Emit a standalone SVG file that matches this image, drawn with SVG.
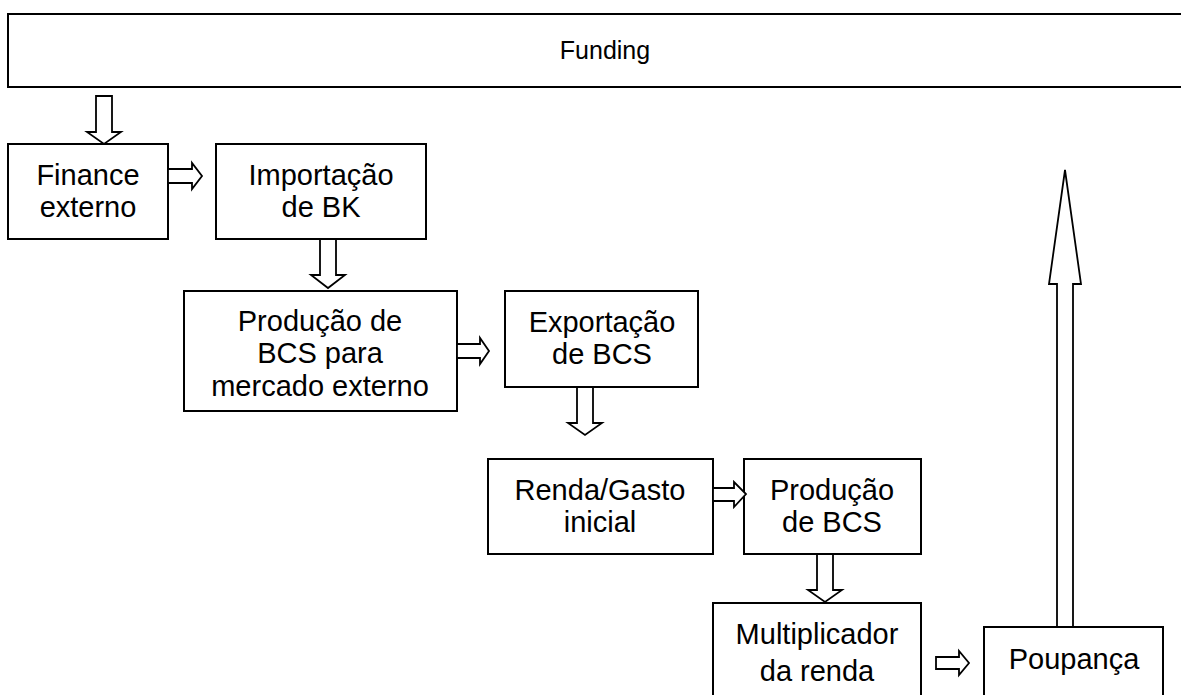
<svg xmlns="http://www.w3.org/2000/svg" width="1181" height="695" viewBox="0 0 1181 695">
<style>
.box{fill:#fff;stroke:#000;stroke-width:2}
.arr{fill:#fff;stroke:#000;stroke-width:1.8;stroke-linejoin:miter}
text{font-family:"Liberation Sans",Arial,sans-serif;font-size:29px;fill:#000;text-anchor:middle}
</style>
<rect width="1181" height="695" fill="#fff"/>
<g id="funding"><rect class="box" x="8" y="14" width="1190" height="73"/><text x="605" y="59" style="font-size:25px">Funding</text></g>
<g id="finance"><rect class="box" x="8" y="144" width="160" height="95"/><text x="88" y="185">Finance</text><text x="88" y="217">externo</text></g>
<g id="importacao"><rect class="box" x="216" y="144" width="210" height="95"/><text x="321" y="185">Importação</text><text x="321" y="217">de BK</text></g>
<g id="producao-externo"><rect class="box" x="184" y="291" width="273" height="120"/><text x="320" y="331">Produção de</text><text x="320" y="363">BCS para</text><text x="320" y="396">mercado externo</text></g>
<g id="exportacao"><rect class="box" x="505" y="291" width="193" height="96"/><text x="602" y="332">Exportação</text><text x="602" y="364">de BCS</text></g>
<g id="renda"><rect class="box" x="488" y="459" width="225" height="95"/><text x="600" y="500">Renda/Gasto</text><text x="600" y="532">inicial</text></g>
<g id="producao-bcs"><rect class="box" x="744" y="459" width="177" height="95"/><text x="832" y="500">Produção</text><text x="832" y="532">de BCS</text></g>
<g id="multiplicador"><rect class="box" x="713" y="603" width="208" height="110"/><text x="817" y="644">Multiplicador</text><text x="817" y="681">da renda</text></g>
<g id="poupanca"><rect class="box" x="984" y="627" width="179" height="90"/><text x="1074" y="669">Poupança</text></g>
<g id="connectors">
<polygon class="arr" points="96,96 112,96 112,132 121,132 104,144 87,132 96,132"/>
<polygon class="arr" points="320,239 336,239 336,275 345,275 328,288 311,275 320,275"/>
<polygon class="arr" points="577,387 593,387 593,423 602,423 585,435 568,423 577,423"/>
<polygon class="arr" points="817,554 833,554 833,590 842,590 825,602 808,590 817,590"/>
<polygon class="arr" points="168,169 192,169 192,163 202,176 192,189 192,183 168,183"/>
<polygon class="arr" points="457,344 480,344 480,338 489,351 480,364 480,358 457,358"/>
<polygon class="arr" points="713,488 734,488 734,482 746,494 734,507 734,501 713,501"/>
<polygon class="arr" points="936,657 959,657 959,651 969,663 959,675 959,669 936,669"/>
<polygon class="arr" points="1057,627 1057,284 1049,284 1065,170 1081,284 1073,284 1073,627"/>
</g>
</svg>
